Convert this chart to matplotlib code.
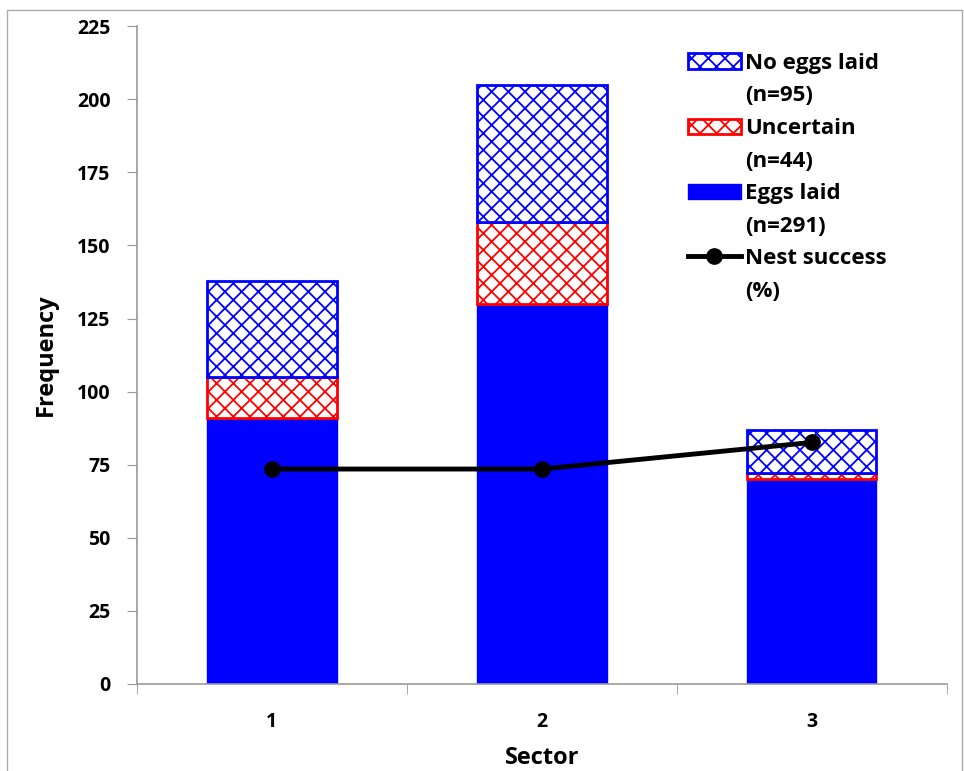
import matplotlib.pyplot as plt
from matplotlib.patches import Rectangle
import numpy as np

plt.rcParams['font.family'] = ['Open Sans', 'DejaVu Sans']
plt.rcParams['font.weight'] = 'bold'
plt.rcParams['hatch.linewidth'] = 1.3

# data
sectors = ['1', '2', '3']
eggs_laid = [91, 130, 70]
uncertain = [14, 28, 2]
no_eggs = [33, 47, 15]
nest_success = [73.5, 73.5, 82.6]

labels = ['No eggs laid', '(n=95)', 'Uncertain', '(n=44)',
          'Eggs laid', '(n=291)', 'Nest success', '(%)']

fig = plt.figure(figsize=(9.64, 7.71), dpi=100)
ax = fig.add_axes([0.142, 0.113, 0.840, 0.853])

x = np.arange(len(sectors))
w = 0.48
b_eggs = ax.bar(x, eggs_laid, w, color='#0000ff', edgecolor='#0000ff', linewidth=1)
bottom2 = np.array(eggs_laid)
b_unc = ax.bar(x, uncertain, w, bottom=bottom2, facecolor='white',
               edgecolor='#ff0000', hatch='xx', linewidth=2)
bottom3 = bottom2 + np.array(uncertain)
b_no = ax.bar(x, no_eggs, w, bottom=bottom3, facecolor='white',
              edgecolor='#0000ff', hatch='xx', linewidth=2)
ln, = ax.plot(x, nest_success, color='black', lw=3.5, marker='o', markersize=11)

ax.set_xlim(-0.5, 2.5)
ax.set_ylim(0, 225)
ax.set_yticks(np.arange(0, 226, 25))
ax.set_xticks(x)
ax.set_xticklabels(sectors)
ax.set_xticks([-0.5, 0.5, 1.5, 2.5], minor=True)
ax.tick_params(axis='x', which='major', length=0, pad=20, labelsize=14)
ax.tick_params(axis='x', which='minor', length=7, color='#999999')
ax.tick_params(axis='y', length=7, color='#999999', labelsize=14, pad=12)
for lab in ax.get_xticklabels() + ax.get_yticklabels():
    lab.set_fontweight('bold')

for s in ['top', 'right']:
    ax.spines[s].set_visible(False)
for s in ['left', 'bottom']:
    ax.spines[s].set_color('#999999')
    ax.spines[s].set_linewidth(1.2)

ax.set_xlabel('Sector', fontsize=17, fontweight='bold', labelpad=10)
ax.set_ylabel('Frequency', fontsize=17, fontweight='bold', labelpad=14)

# second line of each entry gets an invisible handle
blank = Rectangle((0, 0), 1, 1, visible=False)
handles = [b_no, blank, b_unc, blank, b_eggs, blank, ln, blank]
leg = ax.legend(handles, labels, loc='upper left',
                bbox_to_anchor=(0.669, 0.973), frameon=False, fontsize=16,
                handlelength=2.4, handleheight=0.68, handletextpad=0.18,
                labelspacing=0.52, borderaxespad=0.0)
for t in leg.get_texts():
    t.set_fontweight('bold')

fig.patches.append(Rectangle((7 / 964, -0.01), 955 / 964, 1 - 10 / 771 + 0.01,
                             transform=fig.transFigure,
                             fill=False, edgecolor='#aaaaaa', lw=1))

fig.savefig('out.png', dpi=100)
